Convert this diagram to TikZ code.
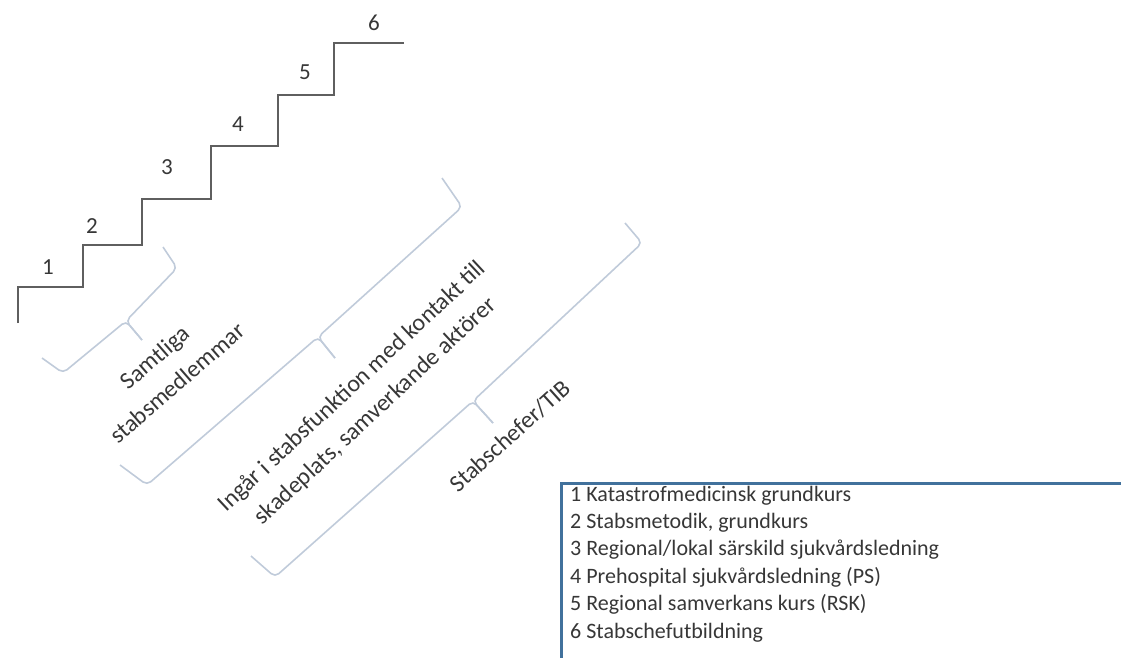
\documentclass[tikz,border=0pt]{standalone}
\usepackage{fontspec}
\setmainfont{Carlito}
\definecolor{stairgray}{RGB}{95,95,95}
\definecolor{bracegray}{RGB}{192,203,218}
\definecolor{boxblue}{RGB}{65,113,156}
\definecolor{textgray}{RGB}{55,55,55}
\begin{document}
\begin{tikzpicture}[x=1pt,y=1pt,
    stair/.style={draw=stairgray, line width=1.6pt},
    curly/.style={draw=bracegray, line width=1.6pt, rounded corners=5pt},
    group/.style={text=textgray, rotate=#1, align=center,
      font=\fontsize{24}{34}\selectfont},
    level/.style={text=textgray, font=\fontsize{23}{23}\selectfont},
    legendline/.style={text=textgray, anchor=base west, inner sep=0pt,
      font=\fontsize{22}{22}\selectfont},
    legendbox/.style={draw=boxblue, line width=3pt}]
      \useasboundingbox (0,0) rectangle (1121,-658);
      \clip (0,0) rectangle (1121,-658);
      \draw[stair] (18,-323) -- (18,-287) -- (83,-287) -- (83,-245)
        -- (142,-245) -- (142,-199) -- (211,-199) -- (211,-146)
        -- (278,-146) -- (278,-95) -- (334,-95) -- (334,-43) -- (404,-43);
      \draw
        (48,-267) node[level] (1){1}
        (92,-226) node[level] (2){2}
        (167,-167) node[level] (3){3}
        (238,-124) node[level] (4){4}
        (305,-72) node[level] (5){5}
        (374,-23) node[level] (6){6};
      \coordinate (allA) at (163,-247);
      \coordinate (allAc) at (177,-268);
      \coordinate (allC) at (126,-321);
      \coordinate (allT) at (142,-340);
      \coordinate (allBc) at (63,-373);
      \coordinate (allB) at (42,-358);
      \coordinate (siteA) at (442,-178);
      \coordinate (siteAc) at (462,-207);
      \coordinate (siteC) at (318,-337);
      \coordinate (siteT) at (335,-358);
      \coordinate (siteBc) at (147,-485);
      \coordinate (siteB) at (120,-465);
      \coordinate (chiefA) at (625,-223);
      \coordinate (chiefAc) at (642,-243);
      \coordinate (chiefC) at (473,-401);
      \coordinate (chiefT) at (493,-423);
      \coordinate (chiefBc) at (275,-577);
      \coordinate (chiefB) at (251,-556);
      \begin{scope}
        \foreach \b in {all,site,chief} {
          \draw[curly] (\b A) -- (\b Ac) -- (\b C) -- (\b T);
          \draw[curly] (\b B) -- (\b Bc) -- (\b C) -- (\b T);
        }
      \end{scope}
      \node[group=41] (all) at (166,-370) {Samtliga\\stabsmedlemmar};
      \node[group=43] (site) at (364,-399)
        {Ingår i stabsfunktion med kontakt till\\skadeplats, samverkande aktörer};
      \node[group=42] (chief) at (510,-436) {Stabschefer/TIB};
      \draw[legendbox] (561,-483) rectangle (1130,-680);
      \foreach \i/\t in {1/{Katastrofmedicinsk grundkurs},
          2/{Stabsmetodik, grundkurs},
          3/{Regional/lokal särskild sjukvårdsledning},
          4/{Prehospital sjukvårdsledning (PS)},
          5/{Regional samverkans kurs (RSK)},
          6/{Stabschefutbildning}}
        \node[legendline] (l\i) at (570,{-501-27.4*(\i-1)}) {\i\ \t};
    \end{tikzpicture}
\end{document}
